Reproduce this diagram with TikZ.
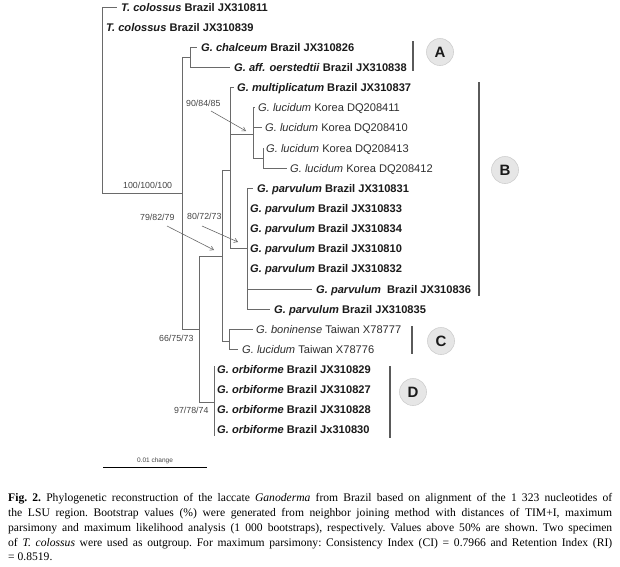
\documentclass[tikz,border=0pt]{standalone}
\usepackage{fontspec}
\setmainfont{Liberation Serif}
\newfontfamily\arial{Liberation Sans}
\usetikzlibrary{arrows.meta}
\definecolor{treegray}{HTML}{6A6A6A}
\definecolor{barcol}{HTML}{5A5A5A}
\definecolor{labcol}{HTML}{1A1A1A}
\definecolor{labreg}{HTML}{2E2E2E}
\definecolor{bscol}{HTML}{444444}
\definecolor{cladefill}{HTML}{E6E6E6}
\definecolor{cladeedge}{HTML}{CFCFCF}
\tikzset{
  br/.style={draw=treegray, line width=0.75pt},
  leafb/.style={anchor=base west, inner sep=0pt, text=labcol, font=\arial\bfseries\fontsize{11.1}{13}\selectfont},
  leafr/.style={anchor=base west, inner sep=0pt, text=labreg, font=\arial\fontsize{11.1}{13}\selectfont},
  boot/.style={anchor=base west, inner sep=0pt, text=bscol, font=\arial\fontsize{8.8}{10}\selectfont},
  bootarrow/.style={draw=treegray, line width=0.6pt, -{Straight Barb[length=3.5pt,width=4.5pt]}},
  cladebar/.style={draw=barcol, line width=1.8pt},
  cladecirc/.style={circle, fill=cladefill, draw=cladeedge, line width=0.6pt, minimum size=27pt, inner sep=0pt, text=labcol, font=\arial\bfseries\fontsize{15}{17}\selectfont},
  captext/.style={anchor=base west, inner sep=0pt, text=black, font=\fontsize{11.6}{14}\selectfont\frenchspacing}
}
\newcommand{\leafnode}[5]{\node[#4] (#1) at (#2,{#3+4}) {#5};}
\begin{document}
\begin{tikzpicture}[x=1pt,y=-1pt]
\useasboundingbox (0,0) rectangle (620,566);
\fill[white] (0,0) rectangle (620,566);

% internal nodes
\coordinate (root) at (102,193);
\coordinate (nI) at (182,193);
\coordinate (nA) at (190,57);
\coordinate (nII) at (199,329);
\coordinate (nIII) at (222,256);
\coordinate (nIV) at (230,170);
\coordinate (nK) at (253,134);
\coordinate (nK2) at (263,158);
\coordinate (nP) at (247,248.7);
\coordinate (nC) at (229,341);
\coordinate (nD) at (214,402);

% leaf tips
\coordinate (t01) at (117,7.0);
\coordinate (t02) at (102,27.1);
\coordinate (t03) at (197,47.3);
\coordinate (t04) at (230,67.4);
\coordinate (t05) at (234,87.6);
\coordinate (t06) at (255,107.7);
\coordinate (t07) at (262,127.8);
\coordinate (t08) at (264,148.0);
\coordinate (t09) at (287,168.1);
\coordinate (t10) at (253,188.3);
\coordinate (t11) at (247,208.4);
\coordinate (t12) at (247,228.5);
\coordinate (t13) at (247,248.7);
\coordinate (t14) at (247,268.8);
\coordinate (t15) at (312,289.0);
\coordinate (t16) at (270,309.1);
\coordinate (t17) at (253,329.2);
\coordinate (t18) at (238,349.4);
\coordinate (dtop) at (214,366);
\coordinate (dbot) at (214,436);

% branches
\draw[br] (root) |- (t01);
\draw[br] (root) |- (t02);
\draw[br] (root) -- (nI);
\draw[br] (nI) |- (nA);
\draw[br] (nI) |- (nII);
\draw[br] (nA) |- (t03);
\draw[br] (nA) |- (t04);
\draw[br] (nII) |- (nIII);
\draw[br] (nII) |- (nD);
\draw[br] (nIII) |- (nIV);
\draw[br] (nIII) |- (nC);
\draw[br] (nIV) |- (t05);
\draw[br] (nIV) |- (nK);
\draw[br] (nIV) |- (nP);
\draw[br] (nK) |- (t06);
\draw[br] (nK) |- (t07);
\draw[br] (nK) |- (nK2);
\draw[br] (nK2) |- (t08);
\draw[br] (nK2) |- (t09);
\draw[br] (nP) |- (t10);
\draw[br] (nP) |- (t11);
\draw[br] (nP) |- (t12);
\draw[br] (nP) |- (t14);
\draw[br] (nP) |- (t15);
\draw[br] (nP) |- (t16);
\draw[br] (nC) |- (t17);
\draw[br] (nC) |- (t18);
\draw[br] (dtop) -- (dbot);

% leaf labels
\leafnode{l01}{121}{7.0}{leafb}{\textit{T. colossus} Brazil JX310811}
\leafnode{l02}{106}{27.1}{leafb}{\textit{T. colossus} Brazil JX310839}
\leafnode{l03}{201}{47.3}{leafb}{\textit{G. chalceum} Brazil JX310826}
\leafnode{l04}{234}{67.4}{leafb}{\textit{G. aff. oerstedtii} Brazil JX310838}
\leafnode{l05}{237}{87.6}{leafb}{\textit{G. multiplicatum} Brazil JX310837}
\leafnode{l06}{258}{107.7}{leafr}{\textit{G. lucidum} Korea DQ208411}
\leafnode{l07}{265}{127.8}{leafr}{\textit{G. lucidum} Korea DQ208410}
\leafnode{l08}{266}{148.0}{leafr}{\textit{G. lucidum} Korea DQ208413}
\leafnode{l09}{290}{168.1}{leafr}{\textit{G. lucidum} Korea DQ208412}
\leafnode{l10}{257}{188.3}{leafb}{\textit{G. parvulum} Brazil JX310831}
\leafnode{l11}{250}{208.4}{leafb}{\textit{G. parvulum} Brazil JX310833}
\leafnode{l12}{250}{228.5}{leafb}{\textit{G. parvulum} Brazil JX310834}
\leafnode{l13}{250}{248.7}{leafb}{\textit{G. parvulum} Brazil JX310810}
\leafnode{l14}{250}{268.8}{leafb}{\textit{G. parvulum} Brazil JX310832}
\leafnode{l15}{316}{289.0}{leafb}{\textit{G. parvulum}\ \ Brazil JX310836}
\leafnode{l16}{274}{309.1}{leafb}{\textit{G. parvulum} Brazil JX310835}
\leafnode{l17}{256}{329.2}{leafr}{\textit{G. boninense} Taiwan X78777}
\leafnode{l18}{242}{349.4}{leafr}{\textit{G. lucidum} Taiwan X78776}
\leafnode{l19}{217}{369.5}{leafb}{\textit{G. orbiforme} Brazil JX310829}
\leafnode{l20}{217}{389.7}{leafb}{\textit{G. orbiforme} Brazil JX310827}
\leafnode{l21}{217}{409.8}{leafb}{\textit{G. orbiforme} Brazil JX310828}
\leafnode{l22}{217}{429.9}{leafb}{\textit{G. orbiforme} Brazil Jx310830}

% bootstrap values
\node[boot] (b1) at (186,106) {90/84/85};
\node[boot] (b2) at (123,188.5) {100/100/100};
\node[boot] (b3) at (140,220) {79/82/79};
\node[boot] (b4) at (187,219) {80/72/73};
\node[boot] (b5) at (159,341.5) {66/75/73};
\node[boot] (b6) at (174,413.5) {97/78/74};

\coordinate (a1s) at (211,111);
\coordinate (a1e) at (246,131);
\coordinate (a3s) at (167,226);
\coordinate (a3e) at (214,250);
\coordinate (a4s) at (202,226);
\coordinate (a4e) at (238,242);
\draw[bootarrow] (a1s) -- (a1e);
\draw[bootarrow] (a3s) -- (a3e);
\draw[bootarrow] (a4s) -- (a4e);

% clade bars and labels
\coordinate (barAt) at (413,41);  \coordinate (barAb) at (413,71);
\coordinate (barBt) at (479,82);  \coordinate (barBb) at (479,296);
\coordinate (barCt) at (412,326); \coordinate (barCb) at (412,354);
\coordinate (barDt) at (390,366); \coordinate (barDb) at (390,438);
\draw[cladebar] (barAt) -- (barAb);
\draw[cladebar] (barBt) -- (barBb);
\draw[cladebar] (barCt) -- (barCb);
\draw[cladebar] (barDt) -- (barDb);
\node[cladecirc] (cA) at (440,52) {A};
\node[cladecirc] (cB) at (505,170) {B};
\node[cladecirc] (cC) at (441,341) {C};
\node[cladecirc] (cD) at (413,392) {D};

% scale bar
\coordinate (s1) at (103,467);
\coordinate (s2) at (207,467);
\draw[draw=black, line width=0.8pt] (s1) -- (s2);
\node[anchor=base, inner sep=0pt, text=bscol, font=\arial\fontsize{6.5}{7}\selectfont] (sl) at (155,462) {0.01 change};

% caption
\node[captext] (cap1) at (8,501) {\makebox[604pt][s]{\textbf{Fig. 2.} Phylogenetic reconstruction of the laccate \textit{Ganoderma} from Brazil based on alignment of the 1 323 nucleotides of}};
\node[captext] (cap2) at (8,516) {\makebox[604pt][s]{the LSU region. Bootstrap values (\%) were generated from neighbor joining method with distances of TIM+I, maximum}};
\node[captext] (cap3) at (8,531) {\makebox[604pt][s]{parsimony and maximum likelihood analysis (1 000 bootstraps), respectively. Values above 50\% are shown. Two specimen}};
\node[captext] (cap4) at (8,546) {\makebox[604pt][s]{of \textit{T. colossus} were used as outgroup. For maximum parsimony: Consistency Index (CI) = 0.7966 and Retention Index (RI)}};
\node[captext] (cap5) at (8,560) {= 0.8519.};
\end{tikzpicture}
\end{document}
